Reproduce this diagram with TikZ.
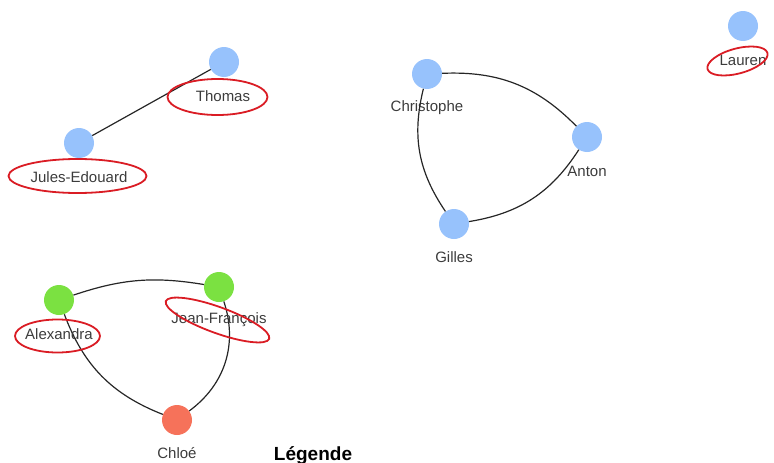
\documentclass[tikz,border=0pt]{standalone}
\usepackage{fontspec}
\setmainfont{Liberation Sans}
\usetikzlibrary{shapes.geometric}
\definecolor{nodeblue}{RGB}{151,194,252}
\definecolor{nodegreen}{RGB}{123,225,65}
\definecolor{nodered}{RGB}{246,114,90}
\definecolor{ringred}{RGB}{218,28,36}
\definecolor{txtgray}{RGB}{60,60,60}
\tikzset{% styles for the people, their names and the red marks
   person/.style={circle, fill=#1, minimum size=30pt, inner sep=0pt},
   person/.default=nodeblue,
   lbl/.style={text=txtgray, inner sep=0pt, font=\fontsize{15}{18}\selectfont},
   link/.style={draw=black!85, line width=1.2pt},
   % hand drawn rings round some of the names
   ring/.style args={#1,#2}{ellipse, draw=ringred, line width=1.8pt,
                            minimum width=#1, minimum height=#2, inner sep=0pt}
}

\begin{document}
\begin{tikzpicture}[x=1pt,y=-1pt]
   \useasboundingbox (0,0) rectangle (774,463);
   % first group
   \node[person] (thomas) at (224,62) {};
   \node[person] (jules) at (79,143) {};
   \node[lbl] (thomas-l) at (223,96) {Thomas};
   \node[lbl] (jules-l) at (79,177) {Jules-Edouard};
   \draw[link] (thomas) -- (jules);
   % second group
   \node[person] (christophe) at (427,74) {};
   \node[person] (anton) at (587,137) {};
   \node[person] (gilles) at (454,224) {};
   \node[lbl] (christophe-l) at (427,108) {Christophe};
   \node[lbl] (anton-l) at (587,171) {Anton};
   \node[lbl] (gilles-l) at (454,257) {Gilles};
   \draw[link] (christophe) to[bend left=24] (anton);
   \draw[link] (christophe) to[bend right=24] (gilles);
   \draw[link] (gilles) to[bend right=24] (anton);
   % alone
   \node[person] (lauren) at (743,26) {};
   \node[lbl] (lauren-l) at (743,60) {Lauren};
   % third group
   \node[person=nodegreen] (alexandra) at (59,300) {};
   \node[person=nodegreen] (jf) at (219,287) {};
   \node[person=nodered] (chloe) at (177,420) {};
   \draw[link] (alexandra) to[bend left=14] (jf);
   \draw[link] (alexandra) to[bend right=24] (chloe);
   \draw[link] (jf) to[bend left=36] (chloe);
   \node[lbl] (alexandra-l) at (59,334) {Alexandra};
   \node[lbl] (jf-l) at (219,320) {Jean-François};
   \node[lbl] (chloe-l) at (177,453) {Chloé};
   % the rings
   \node[ring={100pt,36pt}] (ring-thomas) at (217.5,97) {};
   \node[ring={138pt,34pt}] (ring-jules) at (77.5,176) {};
   \node[ring={62pt,25pt}, rotate=15] (ring-lauren) at (737.5,61) {};
   \node[ring={85pt,33pt}] (ring-alexandra) at (57.5,336) {};
   \node[ring={110pt,26pt}, rotate=-20] (ring-jf) at (217.5,320) {};
   \node[font=\bfseries\fontsize{19}{22}\selectfont, inner sep=0pt] (legende) at (313,456) {Légende};
\end{tikzpicture}
\end{document}
